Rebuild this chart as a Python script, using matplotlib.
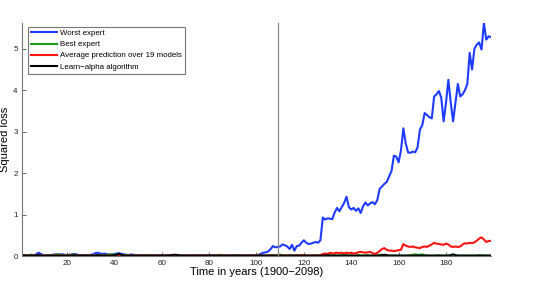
import matplotlib
matplotlib.use('Agg')
import matplotlib.pyplot as plt
import numpy as np

plt.rcParams['font.family'] = ['Liberation Sans', 'DejaVu Sans']

# years since 1900, index 1..199
t = np.arange(1, 200)

worst = [
    0.03, 0.02, 0.01, 0.02, 0.03, 0.02, 0.04, 0.08, 0.05, 0.02,
    0.01, 0.02, 0.02, 0.03, 0.04, 0.03, 0.04, 0.04, 0.03, 0.02,
    0.03, 0.04, 0.05, 0.04, 0.02, 0.02, 0.01, 0.02, 0.02, 0.03,
    0.04, 0.07, 0.08, 0.06, 0.05, 0.06, 0.04, 0.03, 0.04, 0.04,
    0.06, 0.07, 0.05, 0.04, 0.03, 0.02, 0.04, 0.03, 0.02, 0.01,
    0.01, 0.02, 0.01, 0.01, 0.02, 0.01, 0.01, 0.01, 0.02, 0.01,
    0.01, 0.01, 0.02, 0.01, 0.01, 0.02, 0.01, 0.01, 0.01, 0.01,
    0.01, 0.01, 0.02, 0.01, 0.01, 0.01, 0.01, 0.01, 0.02, 0.01,
    0.01, 0.01, 0.01, 0.02, 0.01, 0.01, 0.01, 0.01, 0.01, 0.01,
    0.01, 0.02, 0.01, 0.01, 0.01, 0.01, 0.01, 0.01, 0.02, 0.01,
    0.03, 0.06, 0.08, 0.09, 0.11, 0.17, 0.24, 0.21, 0.22, 0.23,
    0.28, 0.26, 0.23, 0.17, 0.27, 0.13, 0.24, 0.25, 0.32, 0.38,
    0.32, 0.29, 0.30, 0.32, 0.34, 0.32, 0.38, 0.93, 0.88, 0.91,
    0.90, 0.89, 1.05, 1.16, 1.08, 1.18, 1.28, 1.43, 1.18, 1.12,
    1.16, 1.09, 1.15, 1.04, 1.20, 1.29, 1.22, 1.27, 1.30, 1.25,
    1.35, 1.62, 1.68, 1.74, 1.79, 1.92, 2.05, 2.42, 2.40, 2.26,
    2.55, 3.08, 2.72, 2.50, 2.49, 2.52, 2.50, 2.62, 3.05, 3.16,
    3.45, 3.40, 3.35, 3.32, 3.85, 3.90, 3.98, 3.82, 3.25, 3.70,
    4.25, 3.70, 3.25, 3.70, 4.15, 3.85, 3.90, 4.00, 4.15, 4.90,
    4.50, 5.00, 5.10, 5.15, 4.98, 5.62, 5.22, 5.30, 5.28,
]

best = [
    0.01, 0.02, 0.01, 0.02, 0.03, 0.01, 0.01, 0.02, 0.01, 0.01,
    0.01, 0.02, 0.01, 0.02, 0.03, 0.04, 0.03, 0.02, 0.01, 0.02,
    0.02, 0.03, 0.04, 0.02, 0.01, 0.01, 0.02, 0.01, 0.01, 0.02,
    0.01, 0.02, 0.03, 0.02, 0.01, 0.02, 0.03, 0.04, 0.03, 0.04,
    0.03, 0.02, 0.01, 0.02, 0.03, 0.02, 0.01, 0.01, 0.02, 0.01,
    0.01, 0.01, 0.02, 0.01, 0.02, 0.01, 0.01, 0.01, 0.01, 0.01,
    0.01, 0.01, 0.01, 0.01, 0.01, 0.01, 0.02, 0.02, 0.01, 0.01,
    0.01, 0.01, 0.01, 0.01, 0.01, 0.01, 0.01, 0.01, 0.01, 0.01,
    0.01, 0.01, 0.01, 0.02, 0.03, 0.01, 0.01, 0.01, 0.01, 0.01,
    0.01, 0.02, 0.02, 0.01, 0.01, 0.01, 0.01, 0.01, 0.01, 0.01,
    0.01, 0.01, 0.01, 0.01, 0.01, 0.02, 0.02, 0.01, 0.02, 0.03,
    0.02, 0.01, 0.01, 0.02, 0.01, 0.01, 0.02, 0.01, 0.01, 0.01,
    0.01, 0.01, 0.01, 0.01, 0.01, 0.01, 0.01, 0.01, 0.02, 0.03,
    0.02, 0.01, 0.02, 0.01, 0.01, 0.02, 0.03, 0.02, 0.01, 0.01,
    0.01, 0.01, 0.02, 0.01, 0.01, 0.01, 0.02, 0.01, 0.01, 0.01,
    0.02, 0.03, 0.03, 0.02, 0.01, 0.01, 0.01, 0.01, 0.01, 0.01,
    0.01, 0.01, 0.01, 0.01, 0.02, 0.03, 0.04, 0.03, 0.03, 0.04,
    0.02, 0.01, 0.01, 0.01, 0.01, 0.01, 0.02, 0.01, 0.01, 0.01,
    0.01, 0.02, 0.03, 0.02, 0.01, 0.01, 0.01, 0.01, 0.01, 0.01,
    0.01, 0.01, 0.01, 0.02, 0.02, 0.01, 0.01, 0.01, 0.01,
]

average = [
    0.01, 0.01, 0.01, 0.01, 0.01, 0.01, 0.01, 0.01, 0.01, 0.01,
    0.01, 0.01, 0.01, 0.01, 0.01, 0.01, 0.01, 0.01, 0.01, 0.01,
    0.01, 0.01, 0.01, 0.01, 0.01, 0.01, 0.01, 0.01, 0.01, 0.01,
    0.01, 0.01, 0.01, 0.01, 0.01, 0.01, 0.01, 0.01, 0.01, 0.01,
    0.01, 0.01, 0.01, 0.01, 0.01, 0.01, 0.01, 0.01, 0.01, 0.01,
    0.01, 0.01, 0.01, 0.01, 0.01, 0.01, 0.01, 0.01, 0.01, 0.01,
    0.01, 0.01, 0.01, 0.01, 0.01, 0.01, 0.01, 0.01, 0.01, 0.01,
    0.01, 0.01, 0.01, 0.01, 0.01, 0.01, 0.01, 0.01, 0.01, 0.01,
    0.01, 0.01, 0.01, 0.01, 0.01, 0.01, 0.01, 0.01, 0.01, 0.01,
    0.01, 0.01, 0.01, 0.01, 0.01, 0.01, 0.01, 0.01, 0.01, 0.01,
    0.01, 0.01, 0.01, 0.01, 0.01, 0.01, 0.01, 0.01, 0.01, 0.01,
    0.01, 0.01, 0.01, 0.01, 0.01, 0.01, 0.02, 0.01, 0.02, 0.02,
    0.01, 0.01, 0.01, 0.02, 0.01, 0.01, 0.02, 0.05, 0.06, 0.05,
    0.08, 0.06, 0.07, 0.08, 0.07, 0.08, 0.06, 0.08, 0.07, 0.08,
    0.06, 0.07, 0.09, 0.10, 0.09, 0.08, 0.09, 0.10, 0.07, 0.05,
    0.08, 0.12, 0.17, 0.19, 0.15, 0.13, 0.13, 0.12, 0.13, 0.14,
    0.15, 0.29, 0.25, 0.23, 0.22, 0.23, 0.21, 0.20, 0.19, 0.22,
    0.23, 0.22, 0.25, 0.28, 0.32, 0.30, 0.29, 0.28, 0.27, 0.30,
    0.28, 0.23, 0.22, 0.23, 0.22, 0.23, 0.28, 0.31, 0.30, 0.32,
    0.31, 0.33, 0.37, 0.42, 0.45, 0.40, 0.34, 0.36, 0.37,
]

learn_alpha = [
    0.01, 0.01, 0.01, 0.01, 0.01, 0.01, 0.01, 0.02, 0.01, 0.01,
    0.01, 0.01, 0.01, 0.01, 0.01, 0.01, 0.01, 0.01, 0.01, 0.01,
    0.01, 0.01, 0.02, 0.01, 0.01, 0.01, 0.01, 0.01, 0.01, 0.01,
    0.01, 0.01, 0.02, 0.01, 0.01, 0.01, 0.01, 0.01, 0.01, 0.02,
    0.03, 0.05, 0.03, 0.01, 0.01, 0.01, 0.01, 0.01, 0.01, 0.01,
    0.01, 0.01, 0.01, 0.01, 0.01, 0.01, 0.01, 0.01, 0.01, 0.01,
    0.01, 0.01, 0.01, 0.02, 0.03, 0.03, 0.02, 0.01, 0.01, 0.01,
    0.01, 0.01, 0.01, 0.01, 0.01, 0.01, 0.01, 0.01, 0.01, 0.01,
    0.01, 0.01, 0.01, 0.01, 0.01, 0.01, 0.01, 0.01, 0.01, 0.01,
    0.01, 0.01, 0.01, 0.01, 0.01, 0.01, 0.01, 0.01, 0.01, 0.01,
    0.01, 0.01, 0.01, 0.01, 0.01, 0.01, 0.01, 0.01, 0.01, 0.01,
    0.01, 0.01, 0.01, 0.01, 0.01, 0.01, 0.01, 0.01, 0.01, 0.01,
    0.01, 0.01, 0.01, 0.01, 0.01, 0.01, 0.01, 0.01, 0.01, 0.02,
    0.01, 0.01, 0.01, 0.01, 0.01, 0.01, 0.01, 0.01, 0.01, 0.01,
    0.01, 0.01, 0.01, 0.01, 0.01, 0.01, 0.01, 0.01, 0.01, 0.01,
    0.01, 0.01, 0.02, 0.03, 0.02, 0.01, 0.01, 0.01, 0.01, 0.01,
    0.01, 0.01, 0.01, 0.01, 0.01, 0.01, 0.01, 0.01, 0.01, 0.01,
    0.01, 0.01, 0.01, 0.01, 0.01, 0.01, 0.01, 0.01, 0.01, 0.01,
    0.01, 0.02, 0.04, 0.02, 0.01, 0.01, 0.01, 0.01, 0.01, 0.01,
    0.01, 0.01, 0.01, 0.01, 0.01, 0.01, 0.01, 0.01, 0.01,
]

split_year = 109

fig = plt.figure(figsize=(5.48, 2.88), dpi=100)
ax = fig.add_axes([0.040, 0.111, 0.856, 0.809])

ax.plot(t, worst, color='#1f3bff', lw=1.5, label='Worst expert')
ax.plot(t, best, color='#1a9a1a', lw=1.5, label='Best expert')
ax.plot(t, average, color='#ff1414', lw=1.5, label='Average prediction over 19 models')
ax.plot(t, learn_alpha, color='black', lw=1.5, label='Learn\u2212alpha algorithm')
ax.axvline(split_year, color='#888888', lw=0.9)

ax.set_xlim(1, 199)
ax.set_ylim(0, max(worst))
ax.set_xticks(np.arange(20, 200, 20))
ax.set_yticks(np.arange(0, 6, 1))

for s in ['top', 'right']:
    ax.spines[s].set_visible(False)
for s in ['left', 'bottom']:
    ax.spines[s].set_color('#777777')
    ax.spines[s].set_linewidth(0.8)

ax.tick_params(direction='in', length=3, width=0.6, colors='#555555',
               labelsize=5.8, labelcolor='#222222', pad=3)

ax.set_xlabel('Time in years (1900\u22122098)', fontsize=8, labelpad=0)
ax.set_ylabel('Squared loss', fontsize=8, labelpad=2)

leg = ax.legend(loc='upper left', bbox_to_anchor=(0.013, 0.985), fontsize=5.7,
                frameon=True, fancybox=False, handlelength=3.2, handletextpad=0.4,
                borderpad=0.4, labelspacing=0.45, borderaxespad=0)
leg.get_frame().set_edgecolor('#555555')
leg.get_frame().set_linewidth(0.8)

fig.savefig('out.png', dpi=100)
